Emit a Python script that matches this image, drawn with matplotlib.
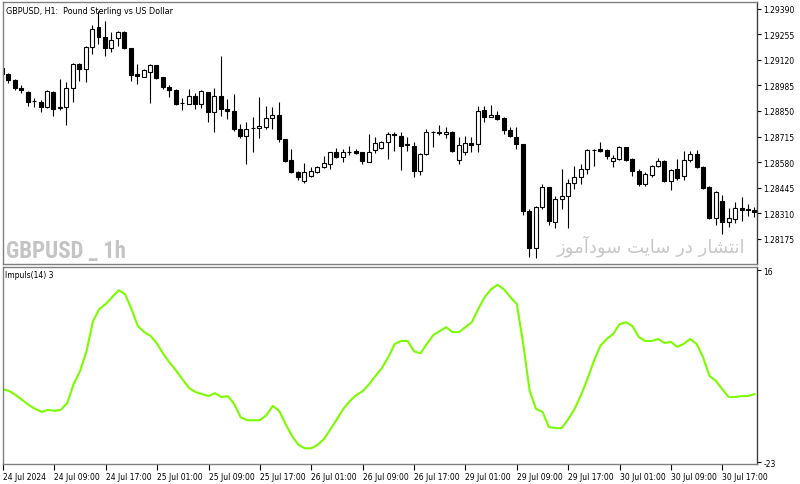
import matplotlib
matplotlib.use('Agg')
import matplotlib.pyplot as plt
from matplotlib import font_manager as fm
import numpy as np

# GBPUSD H1 bars, 24 Jul 01:00 -> 30 Jul 2024
opens = [1.29076, 1.29045, 1.29013, 1.28971, 1.28950, 1.28900, 1.28897, 1.28871, 1.28950, 1.28866,
         1.28871, 1.28971, 1.29097, 1.29071, 1.29187, 1.29292, 1.29240, 1.29182, 1.29234, 1.29266,
         1.29182, 1.29045, 1.29029, 1.29055, 1.29092, 1.29029, 1.28976, 1.28960, 1.28890, 1.28887,
         1.28929, 1.28887, 1.28950, 1.28845, 1.28929, 1.28860, 1.28850, 1.28755, 1.28718, 1.28760,
         1.28760, 1.28765, 1.28813, 1.28829, 1.28702, 1.28592, 1.28528, 1.28481, 1.28507, 1.28528,
         1.28555, 1.28570, 1.28634, 1.28607, 1.28634, 1.28639, 1.28634, 1.28581, 1.28644, 1.28655,
         1.28686, 1.28729, 1.28718, 1.28671, 1.28665, 1.28534, 1.28623, 1.28739, 1.28739, 1.28729,
         1.28739, 1.28592, 1.28634, 1.28681, 1.28676, 1.28855, 1.28818, 1.28829, 1.28813, 1.28750,
         1.28713, 1.28676, 1.28323, 1.28128, 1.28344, 1.28449, 1.28265, 1.28386, 1.28402, 1.28470,
         1.28502, 1.28544, 1.28644, 1.28650, 1.28644, 1.28586, 1.28597, 1.28660, 1.28597, 1.28534,
         1.28465, 1.28513, 1.28560, 1.28586, 1.28481, 1.28544, 1.28507, 1.28592, 1.28623, 1.28555,
         1.28449, 1.28286, 1.28376, 1.28265, 1.28281, 1.28339, 1.28333, 1.28328]
highs = [1.29082, 1.29050, 1.29018, 1.28987, 1.28955, 1.28918, 1.28908, 1.28960, 1.28955, 1.29018,
         1.29003, 1.29103, 1.29103, 1.29192, 1.29303, 1.29377, 1.29324, 1.29266, 1.29271, 1.29271,
         1.29182, 1.29097, 1.29071, 1.29097, 1.29092, 1.29029, 1.28987, 1.28966, 1.28918, 1.28966,
         1.28945, 1.28960, 1.28950, 1.28971, 1.29140, 1.28913, 1.28939, 1.28781, 1.28792, 1.28818,
         1.28924, 1.28876, 1.28871, 1.28897, 1.28702, 1.28650, 1.28534, 1.28576, 1.28555, 1.28560,
         1.28613, 1.28634, 1.28655, 1.28650, 1.28665, 1.28650, 1.28634, 1.28729, 1.28713, 1.28692,
         1.28739, 1.28739, 1.28739, 1.28713, 1.28686, 1.28628, 1.28755, 1.28744, 1.28776, 1.28765,
         1.28744, 1.28713, 1.28718, 1.28713, 1.28876, 1.28876, 1.28881, 1.28850, 1.28818, 1.28765,
         1.28765, 1.28676, 1.28333, 1.28349, 1.28465, 1.28449, 1.28402, 1.28544, 1.28491, 1.28560,
         1.28570, 1.28650, 1.28650, 1.28686, 1.28650, 1.28618, 1.28665, 1.28660, 1.28602, 1.28544,
         1.28528, 1.28565, 1.28602, 1.28592, 1.28544, 1.28597, 1.28639, 1.28639, 1.28644, 1.28560,
         1.28455, 1.28428, 1.28407, 1.28339, 1.28370, 1.28397, 1.28360, 1.28344]
lows = [1.29040, 1.28997, 1.28960, 1.28945, 1.28876, 1.28871, 1.28845, 1.28866, 1.28823, 1.28855,
        1.28776, 1.28897, 1.29008, 1.29003, 1.29150, 1.29203, 1.29140, 1.29161, 1.29192, 1.29177,
        1.29008, 1.28992, 1.29029, 1.28892, 1.29018, 1.28966, 1.28924, 1.28881, 1.28855, 1.28887,
        1.28860, 1.28866, 1.28792, 1.28739, 1.28823, 1.28808, 1.28744, 1.28707, 1.28570, 1.28634,
        1.28707, 1.28755, 1.28755, 1.28686, 1.28581, 1.28523, 1.28486, 1.28470, 1.28502, 1.28523,
        1.28549, 1.28544, 1.28602, 1.28581, 1.28618, 1.28623, 1.28570, 1.28581, 1.28628, 1.28650,
        1.28597, 1.28639, 1.28539, 1.28639, 1.28502, 1.28513, 1.28618, 1.28660, 1.28723, 1.28707,
        1.28634, 1.28570, 1.28618, 1.28634, 1.28634, 1.28792, 1.28818, 1.28802, 1.28729, 1.28713,
        1.28650, 1.28302, 1.28080, 1.28075, 1.28333, 1.28249, 1.28233, 1.28333, 1.28233, 1.28439,
        1.28465, 1.28518, 1.28560, 1.28634, 1.28597, 1.28555, 1.28592, 1.28586, 1.28507, 1.28455,
        1.28455, 1.28502, 1.28555, 1.28476, 1.28433, 1.28486, 1.28486, 1.28581, 1.28549, 1.28439,
        1.28281, 1.28249, 1.28202, 1.28238, 1.28260, 1.28270, 1.28296, 1.28291]
closes = [1.29045, 1.29013, 1.28971, 1.28960, 1.28897, 1.28902, 1.28871, 1.28955, 1.28860, 1.28871,
          1.28971, 1.29097, 1.29071, 1.29187, 1.29282, 1.29240, 1.29182, 1.29224, 1.29266, 1.29182,
          1.29040, 1.29034, 1.29066, 1.29092, 1.29024, 1.28976, 1.28960, 1.28887, 1.28892, 1.28929,
          1.28887, 1.28955, 1.28845, 1.28929, 1.28860, 1.28850, 1.28755, 1.28718, 1.28755, 1.28762,
          1.28771, 1.28813, 1.28829, 1.28702, 1.28586, 1.28528, 1.28502, 1.28528, 1.28534, 1.28555,
          1.28576, 1.28634, 1.28607, 1.28634, 1.28636, 1.28628, 1.28586, 1.28634, 1.28681, 1.28686,
          1.28729, 1.28723, 1.28665, 1.28676, 1.28534, 1.28623, 1.28739, 1.28741, 1.28734, 1.28739,
          1.28639, 1.28671, 1.28681, 1.28671, 1.28850, 1.28818, 1.28829, 1.28808, 1.28750, 1.28718,
          1.28676, 1.28323, 1.28128, 1.28344, 1.28449, 1.28270, 1.28386, 1.28402, 1.28470, 1.28502,
          1.28544, 1.28644, 1.28646, 1.28639, 1.28613, 1.28602, 1.28660, 1.28592, 1.28534, 1.28465,
          1.28518, 1.28560, 1.28586, 1.28481, 1.28539, 1.28497, 1.28592, 1.28623, 1.28555, 1.28444,
          1.28286, 1.28423, 1.28265, 1.28286, 1.28339, 1.28328, 1.28328, 1.28318]

# Impuls(14) 3 indicator
impuls = [-8.2, -8.6, -9.4, -10.4, -11.4, -12.2, -12.8, -12.4, -12.6, -12.4,
          -11.0, -7.2, -4.5, -0.5, 5.6, 8.1, 9.1, 10.5, 11.9, 11.1,
          8.1, 4.6, 3.4, 2.6, 1.0, -1.1, -2.9, -4.5, -6.3, -8.0,
          -8.8, -9.2, -9.6, -9.0, -9.8, -9.6, -11.2, -13.9, -14.5, -14.5,
          -14.5, -13.5, -11.6, -12.6, -15.3, -17.7, -19.5, -20.2, -20.2, -19.5,
          -18.3, -16.3, -14.3, -12.2, -10.6, -9.4, -8.6, -7.2, -5.5, -3.9,
          -1.7, 1.0, 1.6, 1.6, -0.5, -0.9, 1.0, 2.8, 3.6, 4.4,
          3.4, 3.4, 4.4, 5.4, 8.1, 10.5, 12.1, 13.0, 12.1, 10.5,
          9.1, 1.0, -8.6, -12.2, -12.8, -15.9, -16.1, -16.1, -14.3, -12.2,
          -9.4, -6.1, -2.5, 0.6, 2.0, 3.0, 5.0, 5.4, 4.6, 2.4,
          1.6, 1.6, 2.0, 1.2, 1.4, 0.4, 1.0, 2.0, 1.0, -1.7,
          -5.5, -6.5, -8.2, -9.8, -9.8, -9.6, -9.6, -9.2]

time_labels = ['24 Jul 2024', '24 Jul 09:00', '24 Jul 17:00', '25 Jul 01:00', '25 Jul 09:00',
               '25 Jul 17:00', '26 Jul 01:00', '26 Jul 09:00', '26 Jul 17:00', '29 Jul 01:00',
               '29 Jul 09:00', '29 Jul 17:00', '30 Jul 01:00', '30 Jul 09:00', '30 Jul 17:00']
price_ticks = [1.29390, 1.29255, 1.29120, 1.28985, 1.28850, 1.28715, 1.28580, 1.28445, 1.28310, 1.28175]
impuls_ticks = [16, -23]

# "انتشار در سایت سودآموز" in presentation forms (logical order), reversed for display
watermark_fa = ('\uFE8D\uFEE7\uFE98\uFEB8\uFE8E\uFEAD \uFEA9\uFEAD '
                '\uFEB3\uFE8E\uFEF3\uFE96 \uFEB3\uFEEE\uFEA9\uFE81\uFEE3\uFEEE\uFEAF')[::-1]

plt.rcParams['font.family'] = ['DejaVu Sans']
frame = '#808080'

# narrow bold face for the big symbol watermark, if one is installed
wm_family, wm_size = 'DejaVu Sans', 12
for fam in ['Roboto Condensed', 'Liberation Sans Narrow', 'DejaVu Sans Condensed']:
    try:
        fm.findfont(fm.FontProperties(family=fam, weight='bold'), fallback_to_default=False)
        wm_family, wm_size = fam, 16.5
        break
    except ValueError:
        pass

fig = plt.figure(figsize=(8, 4.85), dpi=100)
ax = fig.add_axes([0.00375, 0.4536, 0.9425, 0.540])
ax2 = fig.add_axes([0.00375, 0.0412, 0.9425, 0.406])

x = np.arange(len(opens))
o = np.array(opens); h = np.array(highs); l = np.array(lows); c = np.array(closes)
up = c >= o

# wicks
ax.vlines(x, l, h, color='black', lw=0.8, zorder=1)
# bodies
body_lo = np.minimum(o, c)
body_h = np.maximum(np.abs(c - o), 0.000012)
ax.bar(x[up], body_h[up], bottom=body_lo[up], width=0.62, color='white',
       edgecolor='black', lw=0.8, zorder=2)
ax.bar(x[~up], body_h[~up], bottom=body_lo[~up], width=0.62, color='black',
       edgecolor='black', lw=0.8, zorder=2)

ax.set_xlim(0.15, 117.4)
ax.set_ylim(1.28043, 1.29424)
ax.yaxis.tick_right()
ax.set_yticks(price_ticks)
ax.set_yticklabels(['%.5f' % p for p in price_ticks])
ax.set_xticks([])
ax.tick_params(axis='y', labelsize=5.5, length=3, width=0.8, pad=1.5, colors='black')

ax.text(0.004, 0.985, 'GBPUSD, H1:  Pound Sterling vs US Dollar', transform=ax.transAxes,
        fontsize=5.8, va='top', ha='left')
ax.text(0.004, 0.008, 'GBPUSD _ 1h', transform=ax.transAxes, fontsize=wm_size,
        fontweight='bold', color='#c4c4c4', va='bottom', ha='left',
        family=[wm_family, 'DejaVu Sans'])
ax.text(0.985, 0.03, watermark_fa, transform=ax.transAxes, fontsize=13,
        color='#c8c8c8', va='bottom', ha='right')

# indicator pane
ax2.plot(x, impuls, color='#7CFC00', lw=1.5)
ax2.set_xlim(0.15, 117.4)
ax2.set_ylim(-23.4, 16.6)
ax2.yaxis.tick_right()
ax2.set_yticks(impuls_ticks)
ax2.set_yticklabels([str(v) for v in impuls_ticks])
ax2.tick_params(axis='y', labelsize=5.5, length=3, width=0.8, pad=1.5)
ax2.set_xticks(np.arange(0, len(opens), 8)[:len(time_labels)])
ax2.set_xticklabels(time_labels, ha='left')
ax2.tick_params(axis='x', labelsize=5.5, length=4, width=0.8, pad=1.5)
ax2.text(0.003, 0.985, 'Impuls(14) 3', transform=ax2.transAxes, fontsize=5.5,
         va='top', ha='left')

for a in (ax, ax2):
    for s in a.spines.values():
        s.set_color(frame)
        s.set_linewidth(1.0)
    a.spines['right'].set_color('#404040')
    a.spines['right'].set_linewidth(1.0)
    a.set_facecolor('white')

fig.savefig('out.png', dpi=100, facecolor='white')
